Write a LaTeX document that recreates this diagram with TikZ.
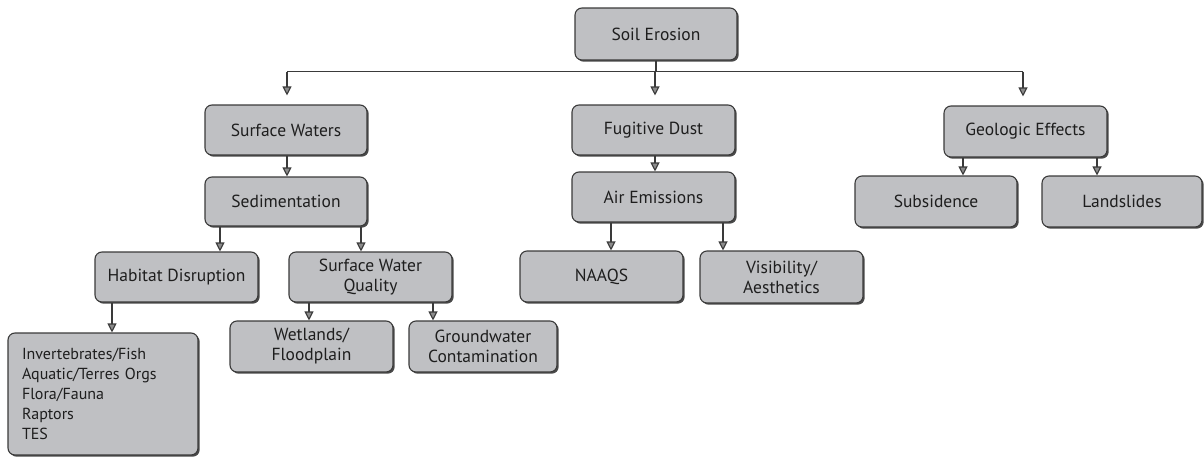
\documentclass[tikz,border=0pt]{standalone}
\usepackage{fontspec}
\setmainfont{PT Sans}
\usetikzlibrary{arrows.meta,shadows}
\definecolor{boxfill}{HTML}{BFC0C3}
\definecolor{linec}{HTML}{3A3A3A}
\definecolor{shadowc}{HTML}{4A4A4A}
\definecolor{textc}{HTML}{1E1E1E}
\definecolor{tipfill}{HTML}{8C8C8C}
\begin{document}
\begin{tikzpicture}[x=1pt,y=-1pt,
  box/.style={draw=linec, line width=1.1pt, fill=boxfill, rounded corners=7pt,
    minimum height=50pt, minimum width=163pt, inner sep=2pt, align=center,
    text=textc, font=\fontsize{17.5}{20}\selectfont,
    drop shadow={shadow xshift=1.7pt, shadow yshift=-1.7pt, fill=shadowc, opacity=1}},
  conn/.style={draw=linec, line width=1.1pt},
  arr/.style={conn, -{Triangle[length=9pt, width=9pt, fill=tipfill]}}
]
\useasboundingbox (0,0) rectangle (1204,466);

% boxes
\node[box, minimum width=162pt, minimum height=52pt] (soil) at (656,34) {Soil Erosion};

\node[box, minimum width=162pt] (sw)  at (286,130)   {Surface Waters};
\node[box, minimum width=162pt, minimum height=49pt] (sed) at (286,201.5) {Sedimentation};
\node[box] (hab) at (176.5,277) {Habitat Disruption};
\node[box] (swq) at (370.5,277) {Surface Water\\Quality};
\node[box, minimum height=51pt] (wet) at (311.5,346.5) {Wetlands/\\Floodplain};
\node[box, minimum width=148pt, minimum height=51pt] (gw) at (483,346.5) {Groundwater\\Contamination};
\node[box, minimum width=190pt, minimum height=122pt, align=left, text width=162pt,
      inner xsep=14pt, font=\fontsize{16}{20}\selectfont] (inv) at (103,394)
  {Invertebrates/Fish\\Aquatic/Terres Orgs\\Flora/Fauna\\Raptors\\TES};

\node[box] (fd)  at (653.5,130) {Fugitive Dust};
\node[box] (air) at (653.5,197) {Air Emissions};
\node[box, minimum height=51pt] (naaqs) at (601.5,276.5) {NAAQS};
\node[box, minimum height=52pt] (vis) at (781.5,277) {Visibility/\\Aesthetics};

\node[box, minimum height=51pt] (geo)  at (1025.5,131.5) {Geologic Effects};
\node[box, minimum width=162pt, minimum height=51pt] (sub)  at (936,201.5) {Subsidence};
\node[box, minimum width=160pt, minimum height=51pt] (land) at (1122,201.5) {Landslides};

% top-level branching
\draw[conn] (soil.south) -- ++(0,11) coordinate (hub);
\draw[conn] (hub -| 287,0) -- (hub -| 1023,0);
\coordinate (swtop)  at ([yshift=9pt]sw.north);
\coordinate (fdtop)  at ([yshift=9pt]fd.north);
\coordinate (geotop) at ([yshift=9pt]geo.north);
\draw[arr] (hub -| 287,0)  -- (swtop -| 287,0);
\draw[arr] (hub -| 655,0)  -- (fdtop -| 655,0);
\draw[arr] (hub -| 1023,0) -- (geotop -| 1023,0);

% vertical drops between levels
\draw[arr] (sw.south -| 287,0)  -- (sed.north -| 287,0);
\draw[arr] (sed.south -| 220,0) -- (hab.north -| 220,0);
\draw[arr] (sed.south -| 361,0) -- (swq.north -| 361,0);
\draw[arr] (hab.south -| 112,0) -- (inv.north -| 112,0);
\draw[arr] (swq.south -| 309,0) -- (wet.north -| 309,0);
\draw[arr] (swq.south -| 433,0) -- (gw.north -| 433,0);

\draw[arr] (fd.south -| 655,0)  -- (air.north -| 655,0);
\draw[arr] (air.south -| 611,0) -- (naaqs.north -| 611,0);
\draw[arr] (air.south -| 723,0) -- (vis.north -| 723,0);

\draw[arr] (geo.south -| 963,0)  -- (sub.north -| 963,0);
\draw[arr] (geo.south -| 1097,0) -- (land.north -| 1097,0);
\end{tikzpicture}
\end{document}
